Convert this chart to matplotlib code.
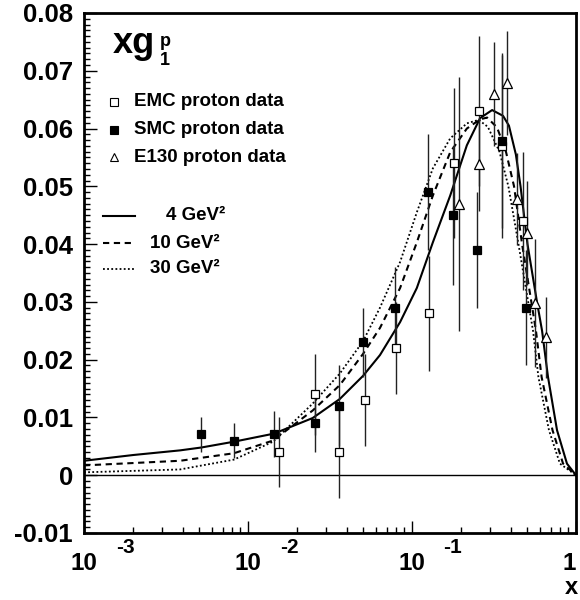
import matplotlib
matplotlib.use('Agg')
import matplotlib.pyplot as plt
import matplotlib.transforms as mtransforms
from matplotlib.lines import Line2D
from matplotlib.ticker import FixedLocator, FixedFormatter, LogLocator, NullFormatter

plt.rcParams['font.family'] = ['Liberation Sans', 'DejaVu Sans']
plt.rcParams['font.weight'] = 'bold'

# EMC proton data (open squares)
emc_x = [0.0155, 0.0257, 0.0359, 0.0517, 0.0799, 0.127, 0.180, 0.256, 0.354, 0.475]
emc_y = [0.0040, 0.0140, 0.0040, 0.0130, 0.0220, 0.0280, 0.0540, 0.0630, 0.0570, 0.0440]
emc_err = [0.006, 0.007, 0.008, 0.008, 0.008, 0.010, 0.013, 0.013, 0.016, 0.012]

# SMC proton data (filled squares)
smc_x = [0.00516, 0.00823, 0.0144, 0.0257, 0.0359, 0.0502, 0.0788, 0.125, 0.178, 0.249, 0.354, 0.496]
smc_y = [0.0071, 0.0060, 0.0071, 0.0090, 0.0120, 0.0230, 0.0290, 0.0490, 0.0450, 0.0390, 0.0578, 0.0290]
smc_err = [0.003, 0.003, 0.004, 0.005, 0.007, 0.006, 0.007, 0.010, 0.012, 0.010, 0.015, 0.010]

# E130 proton data (open triangles)
e130_x = [0.194, 0.256, 0.316, 0.379, 0.437, 0.503, 0.562, 0.656]
e130_y = [0.0470, 0.0538, 0.0659, 0.0678, 0.0478, 0.0420, 0.0298, 0.0239]
e130_err = [0.022, 0.008, 0.009, 0.009, 0.008, 0.009, 0.011, 0.007]

# model curves: 4, 10, 30 GeV^2
q4_x = [0.001, 0.002, 0.00385, 0.0052, 0.0082, 0.0144, 0.0248, 0.0363, 0.0503, 0.0638,
        0.0846, 0.107, 0.134, 0.171, 0.216, 0.260, 0.308, 0.359, 0.390, 0.430, 0.459,
        0.506, 0.578, 0.621, 0.675, 0.766, 0.881, 1.0]
q4_y = [0.0025, 0.0035, 0.0043, 0.0048, 0.0058, 0.0072, 0.0099, 0.0132, 0.0172, 0.0208,
        0.0265, 0.0324, 0.0403, 0.0484, 0.0571, 0.0618, 0.0632, 0.0622, 0.0605, 0.0555, 0.0500,
        0.0400, 0.0300, 0.0250, 0.0170, 0.0078, 0.0020, 0.0]

q10_x = [0.001, 0.00385, 0.0082, 0.0142, 0.0248, 0.0363, 0.0503, 0.0638, 0.0846, 0.107,
         0.134, 0.171, 0.216, 0.260, 0.287, 0.330, 0.374, 0.419, 0.469, 0.570, 0.617,
         0.719, 0.834, 1.0]
q10_y = [0.0017, 0.0025, 0.0038, 0.0060, 0.0112, 0.0156, 0.0210, 0.0255, 0.0324, 0.0403,
         0.0484, 0.0559, 0.0600, 0.0616, 0.0619, 0.0602, 0.0560, 0.0500, 0.0400, 0.0250, 0.0170,
         0.0078, 0.0020, 0.0]

q30_x = [0.001, 0.00385, 0.0082, 0.0142, 0.0248, 0.0363, 0.0503, 0.0638, 0.0846, 0.107,
         0.134, 0.171, 0.216, 0.255, 0.290, 0.3415, 0.387, 0.446, 0.547, 0.590, 0.684,
         0.798, 1.0]
q30_y = [0.0005, 0.0010, 0.0027, 0.0058, 0.0124, 0.0176, 0.0232, 0.0290, 0.0369, 0.0455,
         0.0531, 0.0583, 0.0609, 0.0615, 0.0603, 0.0560, 0.0500, 0.0400, 0.0250, 0.0170, 0.0078,
         0.0020, 0.0]

ytick_vals = [-0.01, 0.0, 0.01, 0.02, 0.03, 0.04, 0.05, 0.06, 0.07, 0.08]
ytick_text = ['-0.01', '0', '0.01', '0.02', '0.03', '0.04', '0.05', '0.06', '0.07', '0.08']
xtick_vals = [0.001, 0.01, 0.1, 1.0]
xtick_base = ['10', '10', '10', '1']
xtick_exp = ['-3', '-2', '-1', '']

W, H = 580, 600
fig = plt.figure(figsize=(W / 100, H / 100), dpi=100)
ax = fig.add_axes([84 / W, 1 - 533 / H, (576 - 84) / W, (533 - 13) / H])

ax.axhline(0, color='black', lw=1.0, zorder=1)

ax.plot(q4_x, q4_y, color='black', lw=1.5, ls='-', zorder=2)
ax.plot(q10_x, q10_y, color='black', lw=1.5, ls=(0, (3, 2.2)), zorder=2)
ax.plot(q30_x, q30_y, color='black', lw=1.3, ls=(0, (1, 1.3)), zorder=2)

for xs, ys, es in [(emc_x, emc_y, emc_err), (smc_x, smc_y, smc_err), (e130_x, e130_y, e130_err)]:
    ax.errorbar(xs, ys, yerr=es, fmt='none', ecolor='#222222', elinewidth=1.0, capsize=0, zorder=3)

ax.plot(emc_x, emc_y, 's', ms=6, mfc='white', mec='black', mew=0.9, zorder=4)
ax.plot(smc_x, smc_y, 's', ms=6, mfc='black', mec='black', mew=0.9, zorder=4)
ax.plot(e130_x, e130_y, '^', ms=6.5, mfc='white', mec='black', mew=0.9, zorder=4)

ax.set_xscale('log')
ax.set_xlim(1e-3, 1.0)
ax.set_ylim(-0.01, 0.08)

ax.yaxis.set_major_locator(FixedLocator(ytick_vals))
ax.yaxis.set_major_formatter(FixedFormatter(ytick_text))
ax.yaxis.set_minor_locator(FixedLocator([i * 0.001 for i in range(-10, 81)]))
ax.xaxis.set_major_locator(FixedLocator(xtick_vals))
ax.xaxis.set_minor_locator(LogLocator(base=10, subs=range(2, 10)))
ax.xaxis.set_major_formatter(NullFormatter())
ax.xaxis.set_minor_formatter(NullFormatter())

ax.tick_params(which='both', direction='in', top=False, right=False, width=1.0)
ax.tick_params(which='major', length=9)
ax.tick_params(which='minor', length=4.5)
ax.tick_params(axis='y', which='major', labelsize=18.5, pad=8)
for lab in ax.get_yticklabels():
    lab.set_fontweight('bold')

for s in ax.spines.values():
    s.set_linewidth(2.0)

# x tick labels, ROOT style (base with exponent off to the upper right)
trans = mtransforms.blended_transform_factory(ax.transData, ax.transAxes)
for xv, b, e in zip(xtick_vals, xtick_base, xtick_exp):
    if e:
        ax.text(xv, -0.058, b, transform=trans, ha='center', va='center',
                fontsize=17.5, fontweight='bold')
        off = mtransforms.offset_copy(trans, fig=fig, x=41 * 0.72, y=16 * 0.72, units='points')
        ax.text(xv, -0.058, e, transform=off, ha='center', va='center',
                fontsize=15, fontweight='bold')
    else:
        ax.text(xv, -0.058, b, transform=trans, ha='right', va='center',
                fontsize=17.5, fontweight='bold')
fig.text(571 / W, 1 - 587 / H, 'x', ha='center', va='center', fontsize=17, fontweight='bold')


def fx(px):
    return px / W


def fy(py):
    return 1 - py / H


# title
fig.text(fx(113), fy(53), 'xg', ha='left', va='baseline', fontsize=26, fontweight='bold')
fig.text(fx(160), fy(46), 'p', ha='left', va='baseline', fontsize=13, fontweight='bold')
fig.text(fx(160), fy(65), '1', ha='left', va='baseline', fontsize=13, fontweight='bold')

# legend: data sets
leg_labels = ['EMC proton data', 'SMC proton data', 'E130 proton data']
leg_y = [102, 129.5, 157]
leg_style = [('s', 'white'), ('s', 'black'), ('^', 'white')]
for lab, py, (m, fc) in zip(leg_labels, leg_y, leg_style):
    fig.add_artist(Line2D([fx(114)], [fy(py)], marker=m, ms=6, mfc=fc, mec='black',
                          mew=0.8, ls='none', transform=fig.transFigure))
    fig.text(fx(134), fy(py), lab, ha='left', va='center', fontsize=13.5, fontweight='bold')

# legend: curves
curve_labels = ['4 GeV\u00b2', '10 GeV\u00b2', '30 GeV\u00b2']
curve_y = [216, 243, 269]
curve_x = [166, 150, 150]
curve_ls = [('-', 1.5), ((0, (3, 2.2)), 1.5), ((0, (1, 1.3)), 1.3)]
for lab, py, px, (ls, lw) in zip(curve_labels, curve_y, curve_x, curve_ls):
    fig.add_artist(Line2D([fx(103), fx(135)], [fy(py), fy(py)], color='black', ls=ls, lw=lw,
                          transform=fig.transFigure))
    fig.text(fx(px), fy(py), lab, ha='left', va='center', fontsize=13.5, fontweight='bold')

fig.savefig('out.png', dpi=100)
